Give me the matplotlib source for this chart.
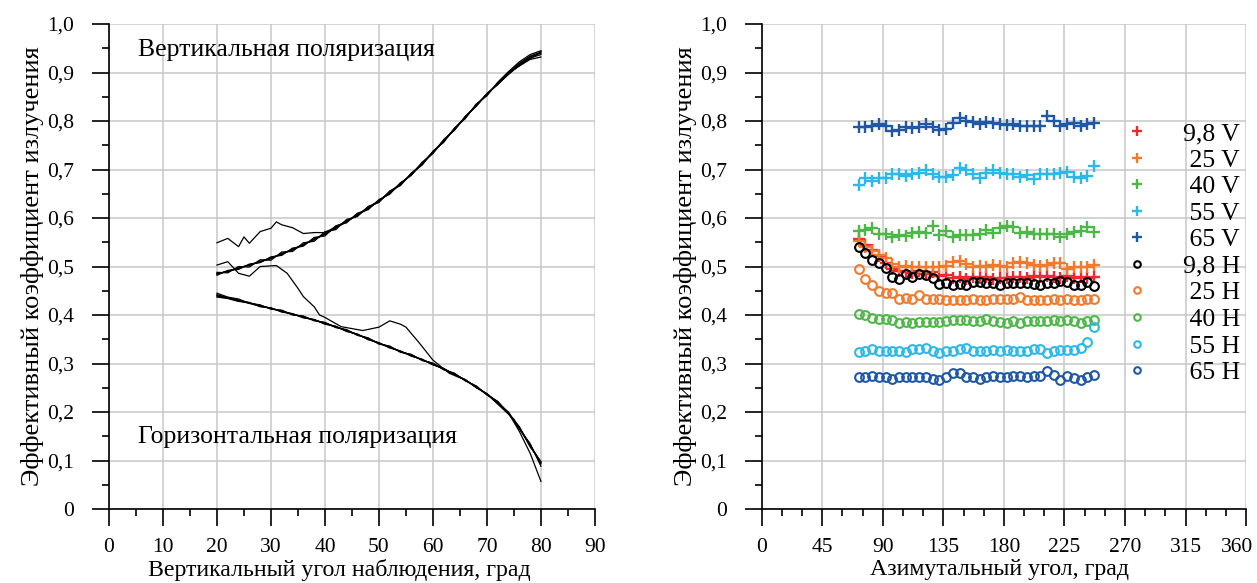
import numpy as np
import matplotlib
matplotlib.use("Agg")
import matplotlib.pyplot as plt
from matplotlib.ticker import MultipleLocator, FixedLocator
from matplotlib.transforms import ScaledTranslation

plt.rcParams['font.family'] = ['Liberation Serif', 'DejaVu Serif']

# ---- left panel: emissivity vs vertical angle ----
theta = [20, 22, 24, 26, 28, 30, 32, 34, 36, 38, 40, 42, 44, 46, 48, 50,
         52, 54, 56, 58, 60, 62, 64, 66, 68, 70, 72, 74, 76, 78, 80]

v_curves = [
    [0.485, 0.490, 0.497, 0.503, 0.510, 0.517, 0.526, 0.535, 0.545, 0.556, 0.567, 0.580, 0.593, 0.606, 0.620, 0.635,
     0.652, 0.670, 0.690, 0.712, 0.735, 0.759, 0.783, 0.808, 0.832, 0.855, 0.877, 0.900, 0.919, 0.934, 0.942],
    [0.482, 0.492, 0.494, 0.505, 0.508, 0.520, 0.523, 0.538, 0.542, 0.560, 0.563, 0.584, 0.590, 0.610, 0.617, 0.638,
     0.649, 0.673, 0.688, 0.715, 0.733, 0.762, 0.781, 0.810, 0.830, 0.857, 0.875, 0.898, 0.916, 0.930, 0.937],
    [0.488, 0.487, 0.500, 0.499, 0.514, 0.513, 0.530, 0.531, 0.549, 0.552, 0.572, 0.576, 0.597, 0.603, 0.624, 0.632,
     0.656, 0.667, 0.693, 0.709, 0.738, 0.756, 0.786, 0.805, 0.835, 0.852, 0.880, 0.902, 0.922, 0.937, 0.945],
    [0.484, 0.491, 0.496, 0.504, 0.509, 0.518, 0.525, 0.536, 0.544, 0.557, 0.566, 0.581, 0.592, 0.607, 0.619, 0.636,
     0.651, 0.671, 0.689, 0.713, 0.734, 0.760, 0.782, 0.809, 0.831, 0.856, 0.876, 0.897, 0.914, 0.927, 0.932],
    [0.486, 0.489, 0.498, 0.502, 0.511, 0.516, 0.527, 0.534, 0.546, 0.555, 0.568, 0.579, 0.594, 0.605, 0.621, 0.634,
     0.653, 0.669, 0.691, 0.711, 0.736, 0.758, 0.784, 0.807, 0.833, 0.854, 0.878, 0.899, 0.918, 0.932, 0.940],
]
h_curves = [
    [0.440, 0.435, 0.430, 0.425, 0.419, 0.414, 0.408, 0.402, 0.396, 0.390, 0.383, 0.376, 0.368, 0.360, 0.351, 0.342,
     0.334, 0.325, 0.317, 0.308, 0.299, 0.289, 0.278, 0.266, 0.252, 0.237, 0.221, 0.198, 0.168, 0.132, 0.093],
    [0.445, 0.437, 0.433, 0.424, 0.421, 0.412, 0.410, 0.400, 0.398, 0.388, 0.385, 0.374, 0.370, 0.358, 0.353, 0.340,
     0.336, 0.323, 0.319, 0.306, 0.301, 0.287, 0.280, 0.264, 0.254, 0.235, 0.222, 0.196, 0.170, 0.128, 0.098],
    [0.437, 0.434, 0.428, 0.426, 0.417, 0.415, 0.406, 0.403, 0.394, 0.391, 0.381, 0.377, 0.366, 0.361, 0.349, 0.343,
     0.332, 0.326, 0.315, 0.309, 0.297, 0.290, 0.276, 0.267, 0.250, 0.238, 0.218, 0.200, 0.165, 0.135, 0.088],
    [0.442, 0.436, 0.431, 0.425, 0.420, 0.413, 0.409, 0.401, 0.397, 0.389, 0.384, 0.375, 0.369, 0.359, 0.352, 0.341,
     0.335, 0.324, 0.318, 0.307, 0.300, 0.288, 0.279, 0.265, 0.253, 0.236, 0.221, 0.197, 0.166, 0.130, 0.095],
    [0.439, 0.435, 0.429, 0.424, 0.418, 0.414, 0.407, 0.402, 0.395, 0.390, 0.382, 0.376, 0.367, 0.360, 0.350, 0.342,
     0.333, 0.325, 0.316, 0.308, 0.298, 0.289, 0.277, 0.266, 0.251, 0.237, 0.219, 0.198, 0.160, 0.115, 0.057],
]

# two odd curves that leave the bundles
odd_v_theta = [20, 22, 24, 25, 26, 28, 30, 31, 32, 34, 36, 38, 40, 45, 50, 55, 60, 65, 70, 75, 80]
odd_v = [0.549, 0.558, 0.541, 0.561, 0.548, 0.572, 0.579, 0.592, 0.586, 0.580, 0.568, 0.570, 0.570,
         0.600, 0.636, 0.680, 0.736, 0.796, 0.856, 0.906, 0.943]
odd_h_theta = [20, 22, 24, 26, 28, 31, 33, 35, 36, 38, 39, 40, 43, 45, 47, 50, 52, 54, 55, 57.5, 60, 63,
               66, 70, 75, 80]
odd_h = [0.503, 0.510, 0.486, 0.480, 0.500, 0.502, 0.486, 0.455, 0.438, 0.417, 0.400, 0.395, 0.376, 0.372,
         0.368, 0.375, 0.388, 0.381, 0.375, 0.342, 0.307, 0.280, 0.266, 0.237, 0.185, 0.096]

# ---- right panel: emissivity vs azimuth ----
azimuth = list(range(72, 252, 5))
az_ticks = [0, 45, 90, 135, 180, 225, 270, 315, 360]
theta_ticks = [0, 10, 20, 30, 40, 50, 60, 70, 80, 90]

labels = ['9,8 V', ' 25 V', ' 40 V', ' 55 V', ' 65 V', '9,8 H', ' 25 H', ' 40 H', ' 55 H', ' 65 H']
colors = ['#ee2a2e', '#f37a2c', '#4db848', '#2bb8ea', '#2058a8',
          '#000000', '#f37a2c', '#4db848', '#2bb8ea', '#2058a8']

e_98v = [0.556, 0.545, 0.535, 0.522, 0.508, 0.495, 0.490, 0.488, 0.487, 0.490, 0.485, 0.488,
         0.480, 0.482, 0.476, 0.478, 0.475, 0.478, 0.476, 0.478, 0.475, 0.477, 0.476, 0.478,
         0.479, 0.476, 0.480, 0.478, 0.481, 0.479, 0.477, 0.480, 0.476, 0.478, 0.477, 0.479]
e_25v = [0.552, 0.540, 0.533, 0.523, 0.517, 0.505, 0.500, 0.502, 0.499, 0.500, 0.500, 0.499,
         0.500, 0.502, 0.510, 0.512, 0.505, 0.500, 0.502, 0.500, 0.503, 0.502, 0.500, 0.507,
         0.510, 0.507, 0.503, 0.501, 0.503, 0.507, 0.507, 0.494, 0.500, 0.500, 0.500, 0.503]
e_40v = [0.574, 0.575, 0.580, 0.568, 0.568, 0.560, 0.565, 0.562, 0.570, 0.572, 0.570, 0.584,
         0.565, 0.573, 0.560, 0.565, 0.565, 0.565, 0.567, 0.575, 0.570, 0.579, 0.584, 0.581,
         0.570, 0.572, 0.568, 0.568, 0.567, 0.567, 0.561, 0.567, 0.572, 0.574, 0.582, 0.572]
e_55v = [0.668, 0.682, 0.677, 0.682, 0.683, 0.691, 0.691, 0.687, 0.691, 0.692, 0.698, 0.691,
         0.684, 0.684, 0.689, 0.704, 0.699, 0.691, 0.682, 0.693, 0.698, 0.693, 0.691, 0.691,
         0.684, 0.689, 0.680, 0.691, 0.691, 0.691, 0.692, 0.695, 0.684, 0.682, 0.687, 0.708]
e_65v = [0.787, 0.788, 0.790, 0.793, 0.790, 0.780, 0.781, 0.787, 0.786, 0.787, 0.794, 0.788,
         0.781, 0.783, 0.796, 0.807, 0.800, 0.799, 0.794, 0.797, 0.796, 0.794, 0.792, 0.793,
         0.790, 0.790, 0.790, 0.789, 0.810, 0.800, 0.790, 0.793, 0.795, 0.789, 0.793, 0.796]
e_98h = [0.541, 0.527, 0.513, 0.508, 0.497, 0.479, 0.474, 0.485, 0.478, 0.485, 0.482, 0.476,
         0.464, 0.467, 0.462, 0.464, 0.462, 0.469, 0.469, 0.467, 0.467, 0.462, 0.467, 0.467,
         0.466, 0.467, 0.464, 0.462, 0.466, 0.467, 0.470, 0.469, 0.462, 0.461, 0.469, 0.460]
e_25h = [0.494, 0.474, 0.462, 0.450, 0.445, 0.446, 0.434, 0.436, 0.432, 0.441, 0.434, 0.432,
         0.434, 0.431, 0.431, 0.430, 0.431, 0.432, 0.431, 0.430, 0.434, 0.434, 0.434, 0.434,
         0.438, 0.431, 0.430, 0.431, 0.431, 0.432, 0.431, 0.434, 0.431, 0.431, 0.432, 0.432]
e_40h = [0.403, 0.400, 0.393, 0.391, 0.391, 0.390, 0.384, 0.386, 0.384, 0.386, 0.386, 0.386,
         0.386, 0.387, 0.390, 0.390, 0.390, 0.388, 0.388, 0.391, 0.387, 0.386, 0.384, 0.387,
         0.384, 0.388, 0.388, 0.388, 0.388, 0.390, 0.388, 0.390, 0.387, 0.384, 0.387, 0.389]
e_55h = [0.324, 0.326, 0.329, 0.326, 0.326, 0.326, 0.326, 0.324, 0.329, 0.329, 0.333, 0.326,
         0.321, 0.326, 0.326, 0.329, 0.333, 0.326, 0.326, 0.326, 0.327, 0.326, 0.327, 0.326,
         0.326, 0.326, 0.329, 0.329, 0.322, 0.326, 0.328, 0.328, 0.328, 0.331, 0.345, 0.376]
e_65h = [0.272, 0.272, 0.274, 0.273, 0.273, 0.269, 0.272, 0.272, 0.272, 0.272, 0.272, 0.269,
         0.266, 0.272, 0.281, 0.280, 0.273, 0.272, 0.269, 0.273, 0.274, 0.273, 0.273, 0.274,
         0.274, 0.273, 0.275, 0.274, 0.285, 0.277, 0.267, 0.274, 0.270, 0.267, 0.272, 0.277]
series = [e_98v, e_25v, e_40v, e_55v, e_65v, e_98h, e_25h, e_40h, e_55h, e_65h]

ytick_vals = [0, 0.1, 0.2, 0.3, 0.4, 0.5, 0.6, 0.7, 0.8, 0.9, 1.0]
ytick_labels = ['0', '0,1', '0,2', '0,3', '0,4', '0,5', '0,6', '0,7', '0,8', '0,9', '1,0']

fig = plt.figure(figsize=(12.57, 5.83), dpi=100)
ax1 = fig.add_axes([0.0867, 0.1269, 0.3866, 0.8319])
ax2 = fig.add_axes([0.6060, 0.1269, 0.3853, 0.8319])


def style(ax, xticks, xminor):
    ax.set_xlim(xticks[0], xticks[-1])
    ax.set_ylim(0, 1.0)
    ax.xaxis.set_major_locator(FixedLocator(xticks))
    ax.xaxis.set_minor_locator(MultipleLocator(xminor))
    ax.yaxis.set_major_locator(FixedLocator(ytick_vals))
    ax.yaxis.set_minor_locator(MultipleLocator(0.05))
    ax.set_yticklabels(ytick_labels)
    ax.grid(True, which='major', color='#c8c8c8', lw=1.1)
    ax.set_axisbelow(True)
    for s in ['top', 'right']:
        ax.spines[s].set_visible(False)
    for s in ['left', 'bottom']:
        ax.spines[s].set_linewidth(1.2)
    ax.tick_params(which='major', direction='out', length=12, width=1.2, labelsize=15.5)
    ax.tick_params(which='minor', direction='out', length=5.3, width=1.2)
    ax.tick_params(axis='y', which='major', pad=13)
    ax.tick_params(axis='x', which='major', pad=9)
    ax.set_ylabel('Эффективный коэффициент излучения', fontsize=19, labelpad=2)


style(ax1, theta_ticks, 5)
for c in v_curves:
    ax1.plot(theta, c, color='black', lw=0.9)
for c in h_curves:
    ax1.plot(theta, c, color='black', lw=0.9)
ax1.plot(odd_v_theta, odd_v, color='black', lw=0.9)
ax1.plot(odd_h_theta, odd_h, color='black', lw=0.9)
ax1.text(5.3, 0.946, 'Вертикальная поляризация', fontsize=18.5, va='center')
ax1.text(5.3, 0.148, 'Горизонтальная поляризация', fontsize=18.5, va='center')
ax1.set_xlabel('Вертикальный угол наблюдения, град', fontsize=17.2, labelpad=0)
ax1.xaxis.set_label_coords(0.473, -0.104)

style(ax2, az_ticks, 15)
for i, (vals, lab, col) in enumerate(zip(series, labels, colors)):
    if lab.endswith('V'):
        ax2.plot(azimuth, vals, ls='none', marker='+', ms=9, mew=1.7, color=col, label=lab)
    else:
        ax2.plot(azimuth, vals, ls='none', marker='o', ms=6.3, mew=1.5, mfc='none', mec=col, label=lab)
ax2.set_xlabel('Азимутальный угол, град', fontsize=17.2, labelpad=0)
ax2.xaxis.set_label_coords(0.49, -0.104)
ax2.legend(loc='upper left', bbox_to_anchor=(0.748, 0.798), frameon=False, fontsize=18.5,
           handlelength=1.0, handletextpad=1.3, labelspacing=0.14, borderpad=0, borderaxespad=0,
           markerscale=0.75)

# keep the last azimuth label inside the figure
last = ax2.xaxis.get_major_ticks()[len(az_ticks) - 1].label1
last.set_transform(last.get_transform() + ScaledTranslation(-9 / 100, 0, fig.dpi_scale_trans))

fig.savefig('out.png', dpi=100)
